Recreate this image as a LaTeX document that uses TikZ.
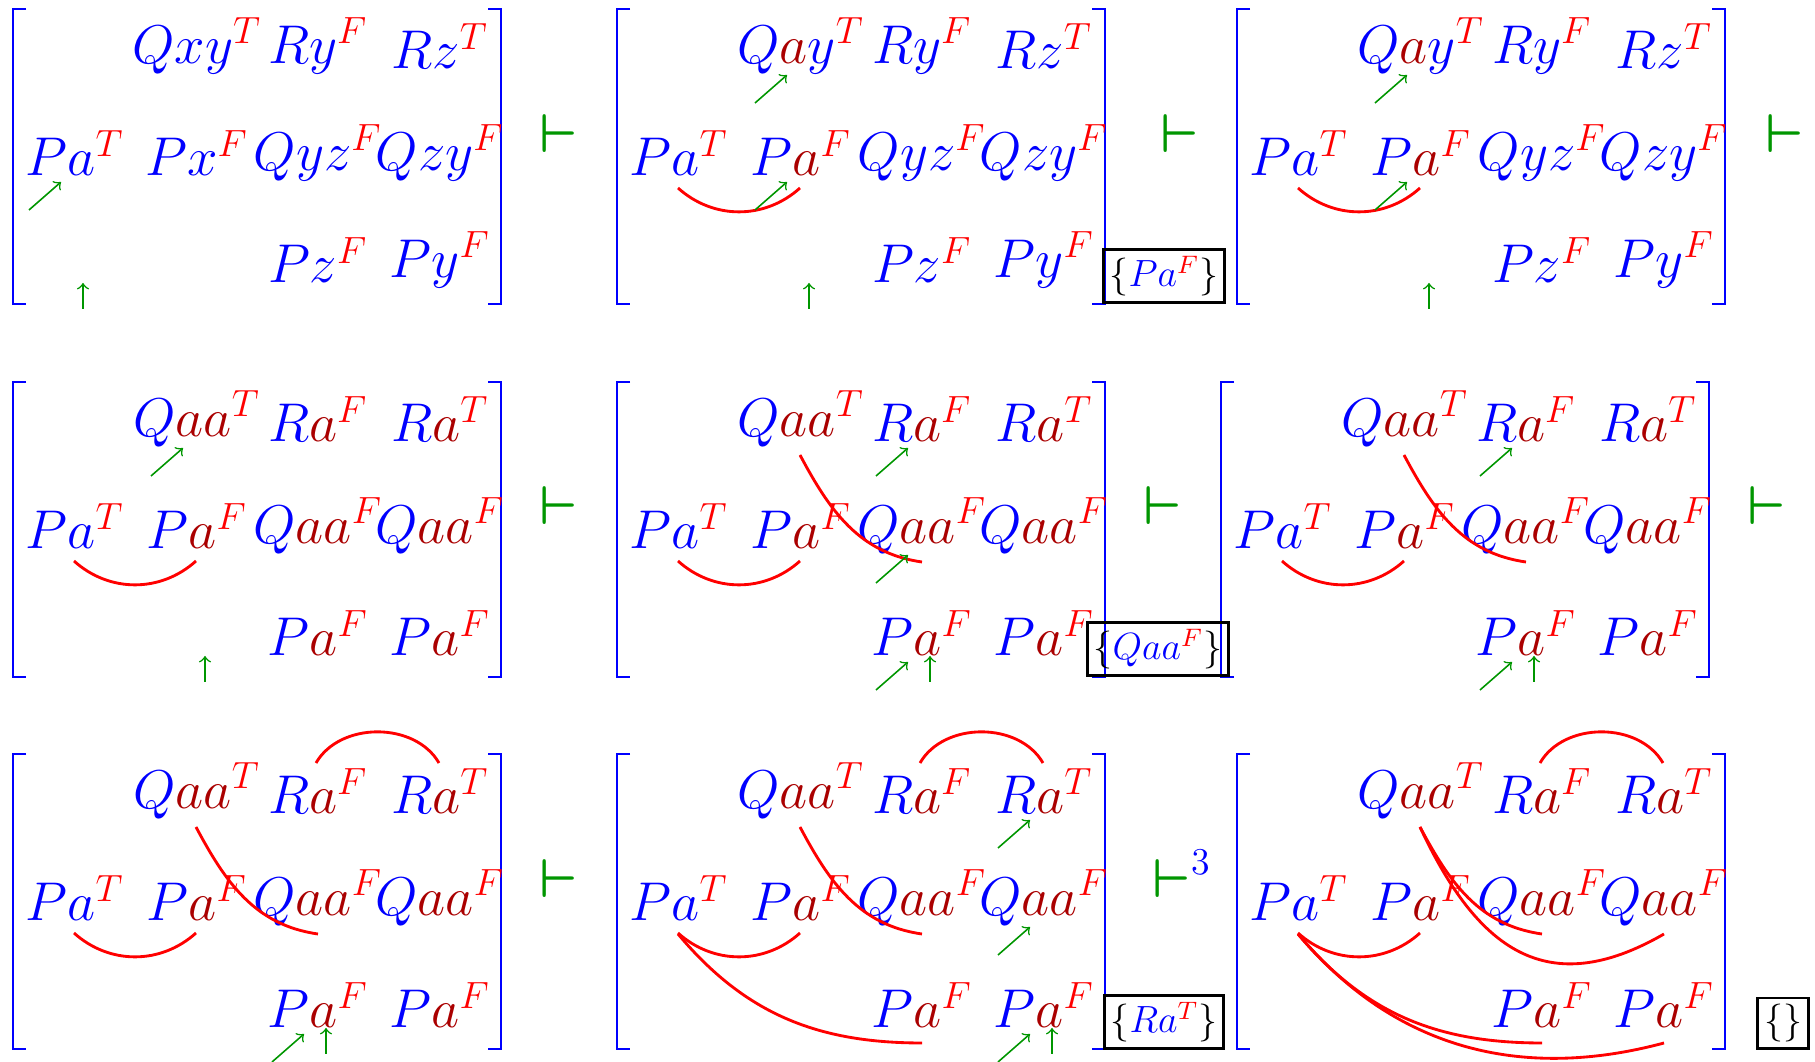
\documentclass[tikz,border=0pt]{standalone}
\usepackage{amsmath,amssymb}
\usepackage{xcolor}
\usepackage{tikz}
\usetikzlibrary{calc}
\definecolor{inst}{RGB}{170,0,0}
\definecolor{okgreen}{RGB}{0,150,0}
\newcommand{\tru}{^{\color{red}T}}
\newcommand{\fls}{^{\color{red}F}}
\newcommand{\ia}{{\color{inst}a}}
\tikzset{
  term/.style={text=blue, font=\LARGE, inner sep=0pt},
  brk/.style={draw=blue, line width=0.7pt},
  unif/.style={draw=red, line width=0.9pt},
  ptr/.style={->, draw=okgreen, line width=0.5pt},
  turn/.style={text=okgreen, font=\LARGE, inner sep=0pt, anchor=base},
  subst/.style={rectangle, draw=black, line width=0.9pt, font=\large,
                inner sep=2pt, anchor=south},
}
% #1 name, #2-#4 top row, #5-#7 middle row, #8-#9 bottom row
\newcommand{\conf}[9]{%
  \draw[brk] (13,0) -| (0,-295) -- (13,-295);
  \draw[brk] (475,0) -| (488,-295) -- (475,-295);
  \node[term] (#1-12) at (184,-37) {$#2$};
  \node[term] (#1-13) at (305,-37) {$#3$};
  \node[term] (#1-14) at (427,-37) {$#4$};
  \node[term] (#1-21) at (62,-144) {$Pa\tru$};
  \node[term] (#1-22) at (184,-144) {$#5$};
  \node[term] (#1-23) at (305,-144) {$#6$};
  \node[term] (#1-24) at (427,-144) {$#7$};
  \coordinate (#1-31) at (62,-251);
  \coordinate (#1-32) at (184,-251);
  \node[term] (#1-33) at (305,-251) {$#8$};
  \node[term] (#1-34) at (427,-251) {$#9$};
}
\newcommand{\diagptr}[1]{\draw[ptr] ($(#1)+(-46,-57)$) -- ($(#1)+(-14,-29)$);}
\newcommand{\upptr}[1]{\draw[ptr] ($(#1)+(8,-49)$) -- ($(#1)+(8,-23)$);}
\newcommand{\linkPP}[1]{\draw[unif] ($(#1-21)+(-1,-35)$) to[bend right=42] ($(#1-22)+(-1,-35)$);}
\newcommand{\linkQQ}[1]{\draw[unif] ($(#1-12)+(-1,-36)$) to[out=-62,in=172] ($(#1-23)+(0,-36)$);}
\newcommand{\linkRR}[1]{\draw[unif] ($(#1-13)+(-2,28)$) to[bend left=60] ($(#1-14)+(-1,28)$);}
\newcommand{\linkPPb}[1]{\draw[unif] ($(#1-21)+(-1,-36)$) to[out=-50,in=180] ($(#1-33)+(0,-38)$);}
\newcommand{\linkQQb}[1]{\draw[unif] ($(#1-12)+(-1,-36)$) to[out=-65,in=-150,looseness=1.3] ($(#1-24)+(0,-36)$);}
\newcommand{\linkPPc}[1]{\draw[unif] ($(#1-21)+(-1,-36)$) to[out=-50,in=-165] ($(#1-34)+(0,-38)$);}

\begin{document}
\begin{tikzpicture}[x=0.3165pt, y=0.3165pt]
\useasboundingbox (0,0) rectangle (1815,-1062);

\begin{scope}[shift={(13,-9)}]
  \conf{m1}{Qxy\tru}{Ry\fls}{Rz\tru}{Px\fls}{Qyz\fls}{Qzy\fls}{Pz\fls}{Py\fls}
\end{scope}
\begin{scope}[shift={(617,-9)}]
  \conf{m2}{Q\ia y\tru}{Ry\fls}{Rz\tru}{P\ia\fls}{Qyz\fls}{Qzy\fls}{Pz\fls}{Py\fls}
\end{scope}
\begin{scope}[shift={(1237,-9)}]
  \conf{m3}{Q\ia y\tru}{Ry\fls}{Rz\tru}{P\ia\fls}{Qyz\fls}{Qzy\fls}{Pz\fls}{Py\fls}
\end{scope}
\foreach \m/\x/\y in {m4/13/-382, m5/617/-382, m6/1221/-382,
                      m7/13/-754, m8/617/-754, m9/1237/-754}
  \begin{scope}[shift={(\x,\y)}]
    \conf{\m}{Q\ia\ia\tru}{R\ia\fls}{R\ia\tru}{P\ia\fls}{Q\ia\ia\fls}{Q\ia\ia\fls}{P\ia\fls}{P\ia\fls}
  \end{scope};

\foreach \m in {m2,m3,m4,m5,m6,m7,m8,m9} {\linkPP{\m}}
\foreach \m in {m5,m6,m7,m8,m9} {\linkQQ{\m}}
\foreach \m in {m7,m8,m9} {\linkRR{\m}}
\linkPPb{m8} \linkPPb{m9}
\linkQQb{m9} \linkPPc{m9}

\diagptr{m1-21} \upptr{m1-31}
\diagptr{m2-12} \diagptr{m2-22} \upptr{m2-32}
\diagptr{m3-12} \diagptr{m3-22} \upptr{m3-32}
\diagptr{m4-12} \upptr{m4-32}
\diagptr{m5-13} \diagptr{m5-23} \diagptr{m5-33} \upptr{m5-33}
\diagptr{m6-13} \diagptr{m6-33} \upptr{m6-33}
\diagptr{m7-33} \upptr{m7-33}
\diagptr{m8-14} \diagptr{m8-24} \diagptr{m8-34} \upptr{m8-34}

\node[turn] (t1) at (559,-153) {$\boldsymbol{\vdash}$};
\node[turn] (t2) at (1180,-153) {$\boldsymbol{\vdash}$};
\node[turn] (t3) at (1785,-153) {$\boldsymbol{\vdash}$};
\node[turn] (t4) at (559,-525) {$\boldsymbol{\vdash}$};
\node[turn] (t5) at (1163,-525) {$\boldsymbol{\vdash}$};
\node[turn] (t6) at (1767,-525) {$\boldsymbol{\vdash}$};
\node[turn] (t7) at (559,-898) {$\boldsymbol{\vdash}$};
\node[turn, anchor=base west] (t8) at (1152,-898) {$\boldsymbol{\vdash}^{\color{blue}3}$};

\node[subst] (s2) at (1164,-304) {$\{{\color{blue}Pa}\fls\}$};
\node[subst] (s5) at (1158,-677) {$\{{\color{blue}Qaa}\fls\}$};
\node[subst] (s8) at (1164,-1050) {$\{{\color{blue}Ra}\tru\}$};
\node[subst] (s9) at (1783,-1050) {$\{\}$};
\end{tikzpicture}
\end{document}
